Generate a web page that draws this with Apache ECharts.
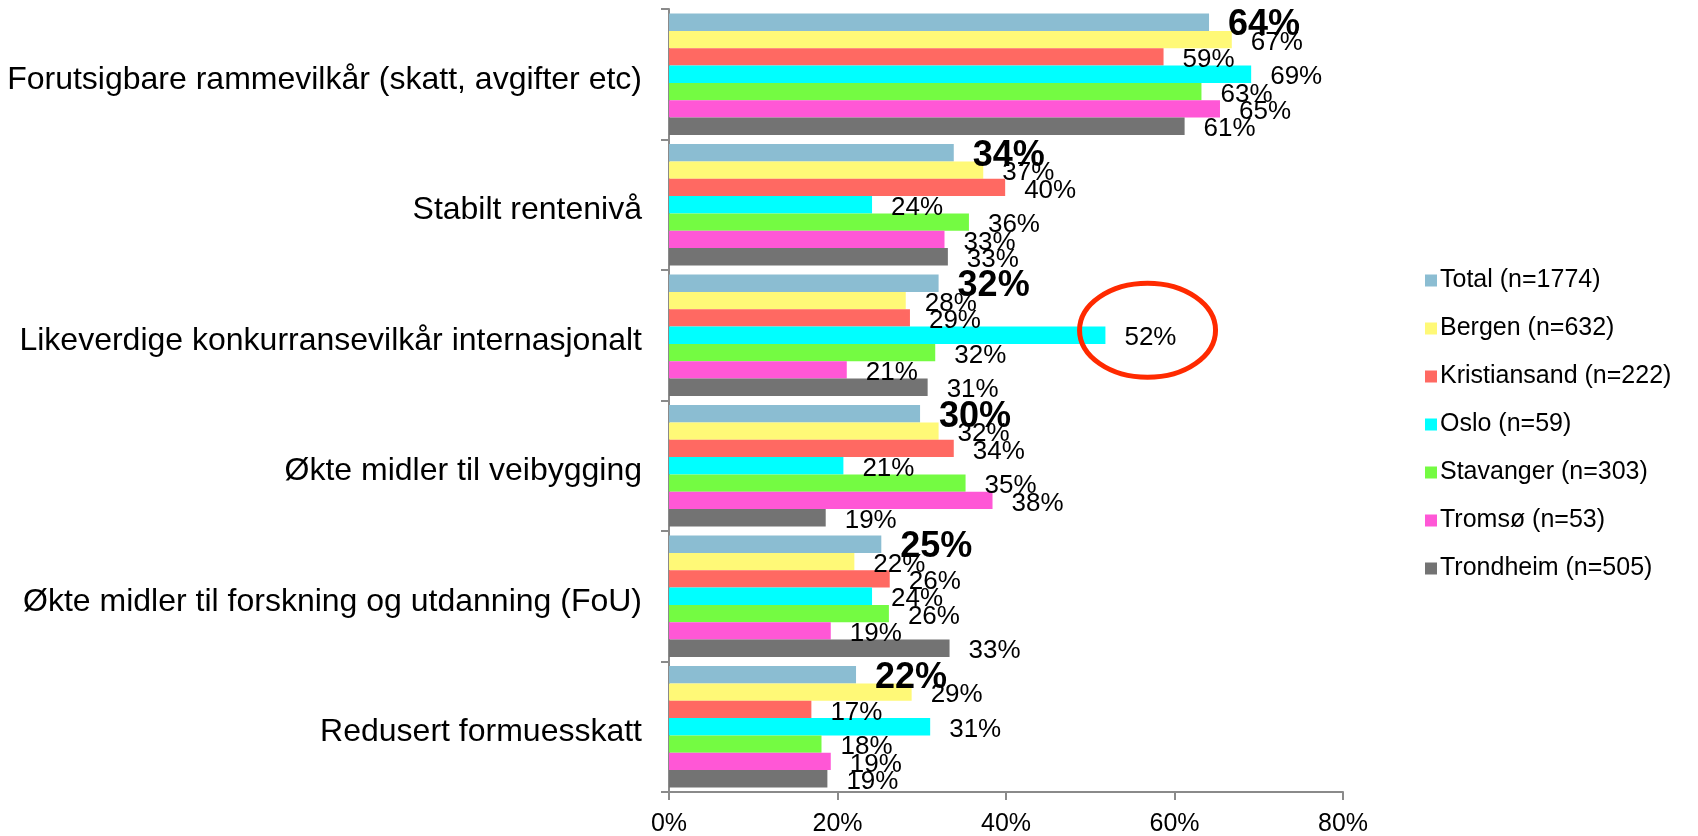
<!DOCTYPE html>
<html lang="no">
<head>
  <meta charset="UTF-8">
  <title>Rammevilkår etter by</title>
  <style>
    html, body {
      margin: 0;
      padding: 0;
      background: #fff;
    }
    #chart {
      width: 1698px;
      height: 836px;
    }
  </style>
</head>
<body>
  <div id="chart"></div>

  <script src="https://cdn.jsdelivr.net/npm/echarts@6/dist/echarts.min.js"></script>
  <script>
    // Kategorier (ovenfra og ned)
    const categories = [
      'Forutsigbare rammevilkår (skatt, avgifter etc)',
      'Stabilt rentenivå',
      'Likeverdige konkurransevilkår internasjonalt',
      'Økte midler til veibygging',
      'Økte midler til forskning og utdanning (FoU)',
      'Redusert formuesskatt'
    ];

    const seriesNames = [
      'Total (n=1774)',
      'Bergen (n=632)',
      'Kristiansand (n=222)',
      'Oslo (n=59)',
      'Stavanger (n=303)',
      'Tromsø (n=53)',
      'Trondheim (n=505)'
    ];

    // Andel i prosent, lest av bildet
    const total        = [64.1, 33.8, 32.0, 29.8, 25.2, 22.2];
    const bergen       = [66.8, 37.3, 28.1, 32.0, 22.0, 28.8];
    const kristiansand = [58.7, 39.9, 28.6, 33.8, 26.2, 16.9];
    const oslo         = [69.1, 24.1, 51.8, 20.7, 24.1, 31.0];
    const stavanger    = [63.2, 35.6, 31.6, 35.2, 26.1, 18.1];
    const tromso       = [65.4, 32.7, 21.1, 38.4, 19.2, 19.2];
    const trondheim    = [61.2, 33.1, 30.7, 18.6, 33.3, 18.8];

    const xTicks = [0, 20, 40, 60, 80];

    const colors = ['#8bbdd2', '#fff977', '#ff6962', '#00ffff', '#74fb42', '#ff57d6', '#737373'];
    const font = "'Liberation Sans', Arial, Helvetica, sans-serif";

    const chart = echarts.init(document.getElementById('chart'));

    const allData = [total, bergen, kristiansand, oslo, stavanger, tromso, trondheim];

    const series = allData.map(function (values, i) {
      return {
        name: seriesNames[i],
        type: 'bar',
        data: values,
        barGap: '0%',
        barCategoryGap: '7%',
        itemStyle: { color: colors[i] },
        label: {
          show: true,
          position: 'right',
          distance: 19,
          offset: [0, 3],
          color: '#000',
          fontFamily: font,
          fontSize: i === 0 ? 36 : 26,
          fontWeight: i === 0 ? 'bold' : 'normal',
          formatter: function (p) { return Math.round(p.value) + '%'; }
        }
      };
    });

    chart.setOption({
      animation: false,
      color: colors,
      textStyle: { fontFamily: font },
      grid: {
        left: 669,
        right: 355,
        top: 9,
        bottom: 44,
        outerBoundsMode: 'none'
      },
      legend: {
        orient: 'vertical',
        left: 1420,
        top: 263,
        itemWidth: 12,
        itemHeight: 12,
        itemGap: 23,
        icon: 'rect',
        textStyle: {
          fontFamily: font,
          fontSize: 25,
          color: '#000',
          padding: [0, 0, 0, -2]
        },
        data: seriesNames
      },
      xAxis: {
        type: 'value',
        min: xTicks[0],
        max: xTicks[xTicks.length - 1],
        interval: 20,
        splitLine: { show: false },
        axisLine: { show: true, lineStyle: { color: '#8a8a8a', width: 2 } },
        axisTick: { show: true, length: 8, lineStyle: { color: '#8a8a8a', width: 2 } },
        axisLabel: {
          margin: 20,
          fontSize: 25,
          color: '#000',
          fontFamily: font,
          formatter: '{value}%'
        }
      },
      yAxis: {
        type: 'category',
        inverse: true,
        data: categories,
        axisLine: { show: true, lineStyle: { color: '#8a8a8a', width: 2 } },
        axisTick: { show: true, length: 8, lineStyle: { color: '#8a8a8a', width: 2 } },
        axisLabel: {
          margin: 27,
          formatter: function (v) { return '{c|' + v + '}'; },
          rich: {
            c: {
              fontSize: 32,
              color: '#000',
              fontFamily: font,
              padding: [11, 0, 0, 0]
            }
          }
        }
      },
      series: series
    });

    // rød ring rundt Oslo-verdien for internasjonale konkurransevilkår
    const center = chart.convertToPixel({ xAxisIndex: 0, yAxisIndex: 0 }, [56.8, 2]);
    chart.setOption({
      graphic: [{
        type: 'ellipse',
        shape: { cx: center[0], cy: center[1] - 5, rx: 68, ry: 47 },
        style: { fill: 'none', stroke: '#ff2a00', lineWidth: 5 },
        z: 100
      }]
    });

    window.addEventListener('resize', function () {
      chart.resize();
    });
  </script>
</body>
</html>
